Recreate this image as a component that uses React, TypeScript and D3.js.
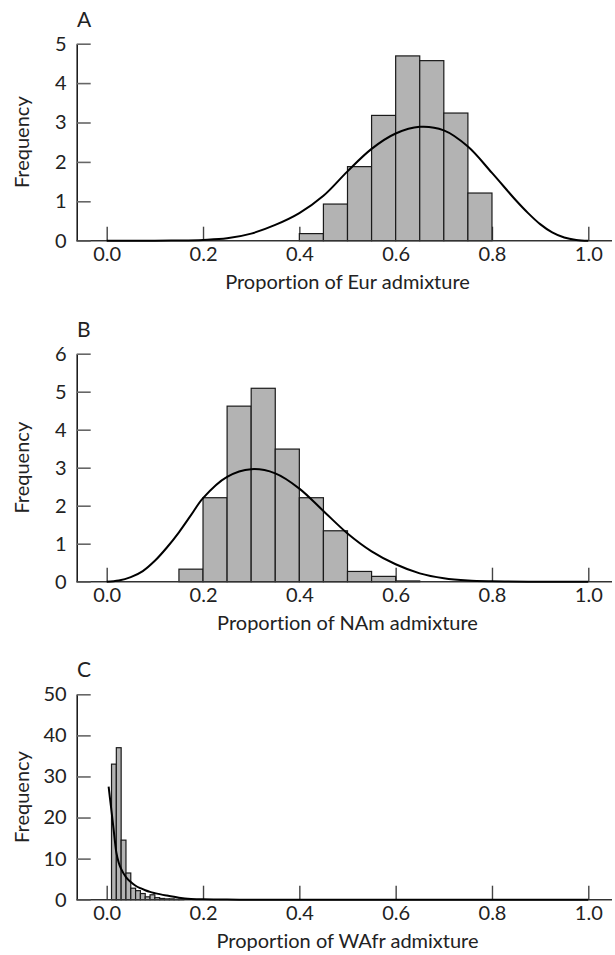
import React, { useRef, useEffect } from 'react';
import * as d3 from 'd3';

// Panel A - European admixture (histogram in density units, bins of 0.05)
const eurBins = [0.40, 0.45, 0.50, 0.55, 0.60, 0.65, 0.70, 0.75];
const eurFreq = [0.18, 0.93, 1.88, 3.18, 4.69, 4.57, 3.24, 1.21];
const eurCurveX = [0, 0.1, 0.15, 0.2, 0.25, 0.3, 0.35, 0.4, 0.45, 0.5, 0.55, 0.6, 0.65, 0.7, 0.75, 0.8, 0.85, 0.875, 0.9, 0.925, 0.95, 0.975, 1.0];
const eurCurveY = [0, 0, 0.005, 0.02, 0.06, 0.18, 0.4, 0.7, 1.14, 1.76, 2.33, 2.72, 2.89, 2.8, 2.39, 1.72, 1.02, 0.7, 0.42, 0.21, 0.08, 0.02, 0];

// Panel B - Native American admixture
const namBins = [0.15, 0.20, 0.25, 0.30, 0.35, 0.40, 0.45, 0.50, 0.55, 0.60];
const namFreq = [0.33, 2.21, 4.62, 5.09, 3.49, 2.21, 1.34, 0.27, 0.14, 0.02];
const namCurveX = [0, 0.025, 0.05, 0.075, 0.1, 0.125, 0.15, 0.175, 0.2, 0.25, 0.3, 0.35, 0.4, 0.45, 0.5, 0.55, 0.6, 0.65, 0.7, 0.75, 0.8, 0.9, 1.0];
const namCurveY = [0, 0.03, 0.12, 0.28, 0.55, 0.9, 1.3, 1.75, 2.2, 2.76, 2.96, 2.85, 2.45, 1.86, 1.27, 0.8, 0.46, 0.22, 0.09, 0.03, 0.01, 0, 0];

// Panel C - West African admixture (bins of 0.01)
const wafrBins = [0.01, 0.02, 0.03, 0.04, 0.05, 0.06, 0.07, 0.08, 0.09, 0.10, 0.11, 0.12, 0.13, 0.14, 0.15];
const wafrFreq = [33, 37, 14.5, 6.5, 2.8, 2.2, 1.5, 0.7, 1.2, 0.5, 0.3, 0.2, 0.2, 0.1, 0.1];
const wafrCurveX = [0.004, 0.007, 0.01, 0.014, 0.02, 0.025, 0.03, 0.04, 0.05, 0.06, 0.07, 0.08, 0.09, 0.1, 0.125, 0.15, 0.175, 0.2, 0.25, 0.3, 0.4, 1.0];
const wafrCurveY = [27.5, 24.5, 21.5, 17.5, 11.5, 9.0, 7.5, 5.5, 4.3, 3.4, 2.8, 2.3, 1.9, 1.6, 1.0, 0.5, 0.2, 0.08, 0.02, 0.01, 0, 0];

const xTicks = [0, 0.2, 0.4, 0.6, 0.8, 1.0];

const panels = [
  { letter: 'A', title: 'Proportion of Eur admixture', bins: eurBins, freq: eurFreq, width: 0.05, cx: eurCurveX, cy: eurCurveY, yTicks: [0, 1, 2, 3, 4, 5], top: 43.7, base: 240.7, smooth: true },
  { letter: 'B', title: 'Proportion of NAm admixture', bins: namBins, freq: namFreq, width: 0.05, cx: namCurveX, cy: namCurveY, yTicks: [0, 1, 2, 3, 4, 5, 6], top: 353.7, base: 581.7, smooth: true },
  { letter: 'C', title: 'Proportion of WAfr admixture', bins: wafrBins, freq: wafrFreq, width: 0.01, cx: wafrCurveX, cy: wafrCurveY, yTicks: [0, 10, 20, 30, 40, 50], top: 694.3, base: 899.7, smooth: false },
];

const FONT = 'Lato, "Open Sans", sans-serif';
const FS = 20;

const App = () => {
  const svgRef = useRef<SVGSVGElement>(null);

  useEffect(() => {
    const svg = d3.select(svgRef.current)
      .style('font-variant-ligatures', 'none');
    svg.selectAll('*').remove();

    const axisX0 = 76.7;
    const x = d3.scaleLinear().domain([0, 1]).range([106.7, 588.3]);

    panels.forEach((p) => {
      const yMax = p.yTicks[p.yTicks.length - 1];
      const y = d3.scaleLinear().domain([0, yMax]).range([p.base, p.top]);
      const g = svg.append('g');

      // x ticks first so the bars cover them
      const xAxis = d3.axisBottom(x).tickValues(xTicks).tickFormat(d3.format('.1f')).tickSize(-14).tickPadding(6).tickSizeOuter(0);
      const gx = g.append('g').attr('transform', `translate(0,${p.base})`).call(xAxis);
      gx.select('.domain').remove();
      gx.selectAll('line').attr('stroke', '#444').attr('stroke-width', 1.4);
      gx.selectAll('text').attr('font-family', FONT).attr('font-size', FS).attr('fill', '#222');

      // bars
      g.selectAll('.bar')
        .data(p.bins.map((b, i) => ({ x0: b, v: p.freq[i] })))
        .join('rect')
        .attr('x', (d) => x(d.x0))
        .attr('y', (d) => y(d.v))
        .attr('width', (d) => x(d.x0 + p.width) - x(d.x0))
        .attr('height', (d) => p.base - y(d.v))
        .attr('fill', '#b3b3b3')
        .attr('stroke', '#1a1a1a')
        .attr('stroke-width', 1.2);

      // baseline
      g.append('line')
        .attr('x1', axisX0).attr('x2', 612)
        .attr('y1', p.base).attr('y2', p.base)
        .attr('stroke', '#333').attr('stroke-width', 1.6);

      // fitted curve
      const line = d3.line<number>()
        .x((d, i) => x(p.cx[i]))
        .y((d) => Math.min(y(d), p.base))
        .curve(p.smooth ? d3.curveCatmullRom.alpha(0.5) : d3.curveMonotoneX);
      g.append('path')
        .attr('d', line(p.cy))
        .attr('fill', 'none')
        .attr('stroke', '#000')
        .attr('stroke-width', 2);

      // y axis, ticks pointing inward
      const yAxis = d3.axisLeft(y).tickValues(p.yTicks).tickFormat(d3.format('d')).tickSize(-14).tickPadding(10).tickSizeOuter(0);
      const gy = g.append('g').attr('transform', `translate(${axisX0},0)`).call(yAxis);
      gy.select('.domain').attr('stroke', '#111').attr('stroke-width', 1.5);
      gy.selectAll('line').attr('stroke', '#666').attr('stroke-width', 1.6);
      gy.selectAll('text').attr('font-family', FONT).attr('font-size', FS).attr('fill', '#222');

      // labels
      g.append('text')
        .attr('x', 77).attr('y', p.top - 17)
        .attr('font-family', FONT).attr('font-size', 21).attr('fill', '#222')
        .text(p.letter);

      g.append('text')
        .attr('transform', `translate(29,${(p.top + p.base) / 2}) rotate(-90)`)
        .attr('text-anchor', 'middle')
        .attr('font-family', FONT).attr('font-size', FS).attr('fill', '#222')
        .text('Frequency');

      g.append('text')
        .attr('x', (x(0) + x(1)) / 2).attr('y', p.base + 48.6)
        .attr('text-anchor', 'middle')
        .attr('font-family', FONT).attr('font-size', FS).attr('fill', '#222')
        .text(p.title);
    });
  }, []);

  return (
    <div style={{ position: 'absolute', left: 0, top: 0 }}>
      <svg ref={svgRef} width={615} height={955} style={{ display: 'block', background: '#fff' }}></svg>
    </div>
  );
};

export default App;
